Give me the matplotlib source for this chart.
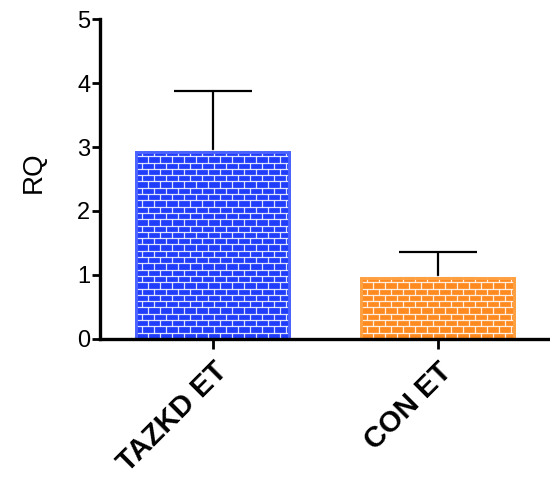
import matplotlib
matplotlib.use("Agg")
import matplotlib.pyplot as plt
import numpy as np
from matplotlib.collections import LineCollection

plt.rcParams['font.family'] = ['Liberation Sans', 'DejaVu Sans']

categories = ["TAZKD ET", "CON ET"]
values = [2.92, 0.95]
errors = [0.96, 0.41]
face_colors = ["#1f3dfb", "#ff8a20"]
edge_colors = ["#4a62ff", "#ffa040"]

fig = plt.figure(figsize=(5.5, 4.78), dpi=100)
ax = fig.add_axes([0.182, 0.291, 0.818, 0.669])

x = np.arange(len(categories))
width = 0.68
bars = ax.bar(x, values, width=width, color=face_colors, edgecolor=edge_colors,
              linewidth=2.0, zorder=2)
ax.errorbar(x, values, yerr=[np.zeros(len(values)), errors], fmt='none',
            ecolor='black', elinewidth=1.6, capsize=28, capthick=1.6, zorder=1)

ax.set_xlim(-0.5, 1.5)
ax.set_ylim(0, 5)

# brick pattern inside each bar (style only)
fig.canvas.draw()
def px_to_data_x(px):
    return px / (ax.transData.transform((1, 0))[0] - ax.transData.transform((0, 0))[0])
def px_to_data_y(px):
    return px / (ax.transData.transform((0, 1))[1] - ax.transData.transform((0, 0))[1])
row_h = px_to_data_y(6.3)
brick_w = px_to_data_x(12.0)
for rect in bars:
    x0, y0 = rect.get_x(), rect.get_y()
    w, h = rect.get_width(), rect.get_height()
    segs = []
    nrows = int(np.ceil(h / row_h)) + 1
    for r in range(nrows):
        yb = y0 + r * row_h
        segs.append([(x0, yb), (x0 + w, yb)])
        off = 0 if r % 2 == 0 else brick_w / 2
        xv = x0 + off
        while xv < x0 + w:
            segs.append([(xv, yb), (xv, yb + row_h)])
            xv += brick_w
    lc = LineCollection(segs, colors='white', linewidths=0.9, alpha=0.85, zorder=3)
    lc.set_clip_path(rect)
    ax.add_collection(lc)
    ax.bar(rect.get_x() + w / 2, h, width=w, fill=False,
           edgecolor=rect.get_edgecolor(), linewidth=2.0, zorder=4)

for s in ['top', 'right']:
    ax.spines[s].set_visible(False)
for s in ['left', 'bottom']:
    ax.spines[s].set_linewidth(2.4)
    ax.spines[s].set_zorder(5)

ax.set_yticks([0, 1, 2, 3, 4, 5])
ax.set_yticklabels(["0", "1", "2", "3", "4", "5"], fontsize=17)
ax.tick_params(axis='y', length=6, width=2, pad=1)
ax.tick_params(axis='x', length=7, width=2, pad=6)
ax.set_xticks(x)
ax.set_xticklabels(categories, fontsize=21, fontweight='bold', rotation=45,
                   ha='right', va='top', rotation_mode='anchor')
ax.set_ylabel("RQ", fontsize=20)
ax.yaxis.set_label_coords(-0.118, 0.52)

fig.savefig("out.png", dpi=100)
